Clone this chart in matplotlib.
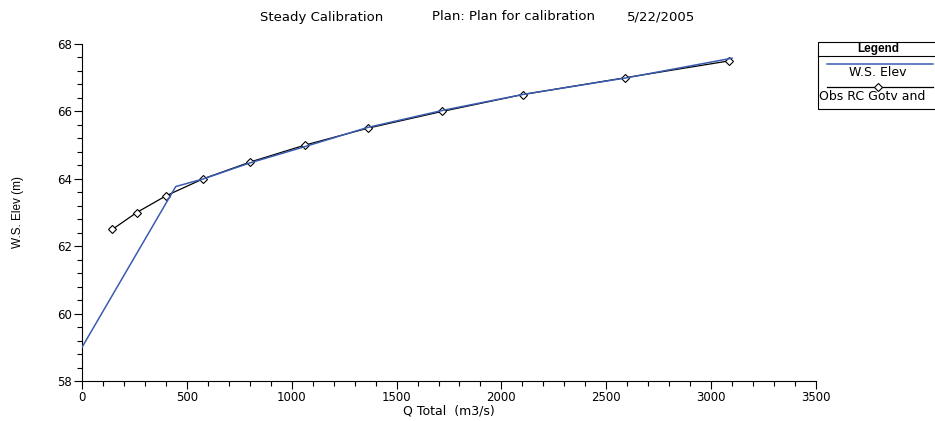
import matplotlib
matplotlib.use("Agg")
import matplotlib.pyplot as plt
from matplotlib.ticker import MultipleLocator
from matplotlib.lines import Line2D
from matplotlib.patches import Rectangle

plt.rcParams['font.family'] = ['DejaVu Sans']

# Computed water surface (W.S. Elev)
ws_q = [0, 447, 580, 800, 1060, 1360, 1720, 2100, 2600, 3100]
ws_elev = [59.0, 63.77, 64.0, 64.47, 64.95, 65.52, 66.03, 66.5, 67.0, 67.58]

# Observed rating curve
obs_q = [145, 261, 402, 578, 803, 1063, 1362, 1718, 2101, 2591, 3087]
obs_elev = [62.5, 63.0, 63.5, 64.0, 64.5, 65.0, 65.5, 66.0, 66.5, 67.0, 67.5]

title_parts = ["Steady Calibration", "Plan: Plan for calibration", "5/22/2005"]
x_label = "Q Total  (m3/s)"
y_label = "W.S. Elev (m)"
legend_title = "Legend"
legend_labels = ["W.S. Elev", "Obs RC Gotv and"]

W, H = 935, 421
fig = plt.figure(figsize=(W / 100, H / 100), dpi=100)
ax = fig.add_axes([82 / W, 1 - 381 / H, (816 - 82) / W, (381 - 44) / H])

ax.plot(obs_q, obs_elev, color='black', lw=0.9, marker='D', markersize=4.5,
        markerfacecolor='white', markeredgecolor='black', markeredgewidth=0.8, zorder=2)
ax.plot(ws_q, ws_elev, color='#3a5bb0', lw=1.1, zorder=3)

ax.set_xlim(0, 3500)
ax.set_ylim(58, 68)
ax.xaxis.set_major_locator(MultipleLocator(500))
ax.xaxis.set_minor_locator(MultipleLocator(100))
ax.yaxis.set_major_locator(MultipleLocator(2))
ax.yaxis.set_minor_locator(MultipleLocator(0.4))
for s in ['top', 'right']:
    ax.spines[s].set_visible(False)
ax.tick_params(which='major', length=6, width=0.8, labelsize=8.5, pad=1)
ax.tick_params(which='minor', length=3.5, width=0.8)


def fx(px):
    return px / W


def fy(py):
    return 1 - py / H


# Title in three segments as in the original
for part, cx in zip(title_parts, [321.5, 513.5, 661.5]):
    fig.text(fx(cx), fy(17), part, ha='center', va='center', fontsize=9.5)
fig.text(fx(449), fy(411), x_label, ha='center', va='center', fontsize=9)
fig.text(fx(18), fy(212), y_label, ha='center', va='center', rotation=90, fontsize=8.5,
         family=['Liberation Sans', 'DejaVu Sans'])

# Legend box (clipped at the right edge like the original)
fig.patches.append(Rectangle((fx(818), fy(109)), fx(140), (109 - 42) / H,
                             transform=fig.transFigure, facecolor='white',
                             edgecolor='black', lw=0.8))
fig.lines.append(Line2D([fx(818), fx(935)], [fy(56), fy(56)], transform=fig.transFigure,
                        color='black', lw=0.8))
fig.text(fx(878), fy(49), legend_title, ha='center', va='center', fontsize=8.5,
         fontweight='bold', family=['Liberation Sans', 'DejaVu Sans'])
fig.lines.append(Line2D([fx(827), fx(933)], [fy(64), fy(64)], transform=fig.transFigure,
                        color='#3a5bb0', lw=1.1))
fig.text(fx(878), fy(73), legend_labels[0], ha='center', va='center', fontsize=9,
         family=['DejaVu Sans'])
fig.lines.append(Line2D([fx(827), fx(933)], [fy(87), fy(87)], transform=fig.transFigure,
                        color='black', lw=0.9))
fig.lines.append(Line2D([fx(878)], [fy(87)], transform=fig.transFigure, marker='D',
                        markersize=4, markerfacecolor='white', markeredgecolor='black',
                        markeredgewidth=0.8, lw=0))
fig.text(fx(819), fy(97), legend_labels[1], ha='left', va='center', fontsize=9,
         family=['DejaVu Sans'])

fig.savefig("out.png", dpi=100)
